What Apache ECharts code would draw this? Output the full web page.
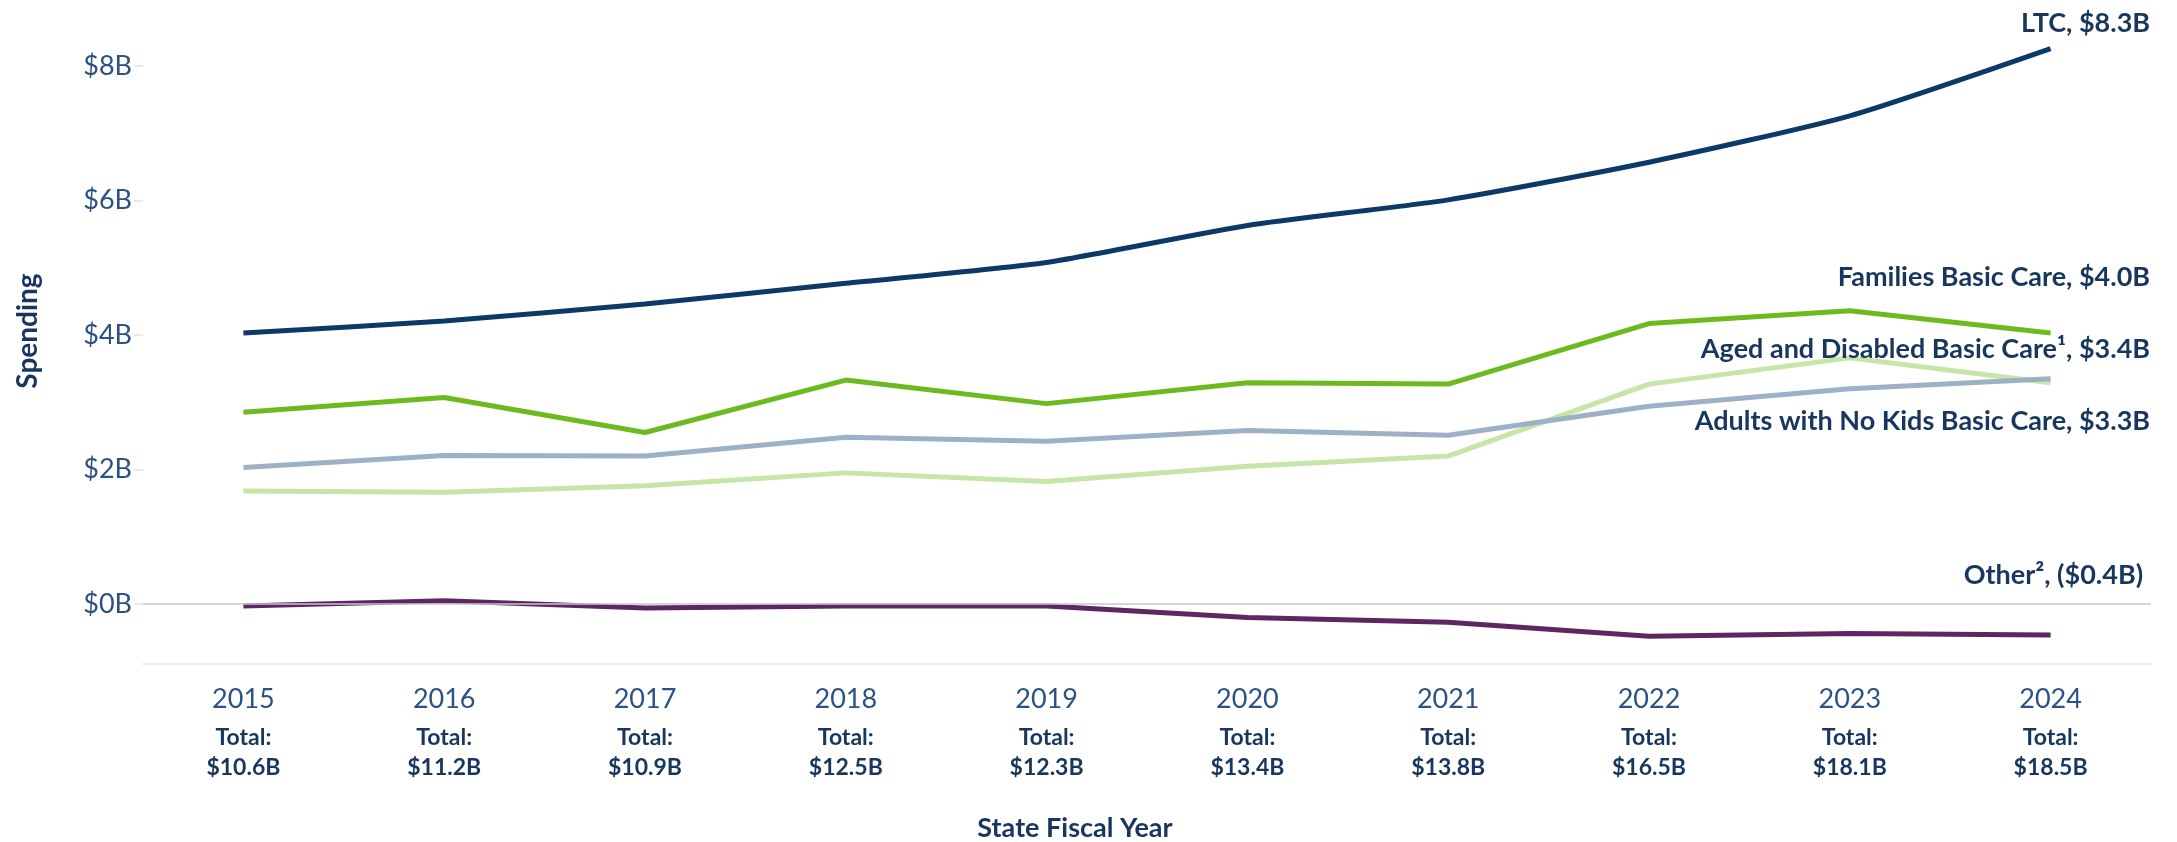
<!DOCTYPE html>
<html>
<head>
<meta charset="utf-8">
<title>Spending by State Fiscal Year</title>
<script src="https://cdn.jsdelivr.net/npm/echarts@6/dist/echarts.min.js"></script>
<style>
    html, body { margin: 0; padding: 0; background: #fff; }
    #main { width: 2177px; height: 842px; }
</style>
</head>
<body>
<div id="main"></div>
<script>
/* 数据 (单位: 十亿美元) */
var years = ['2015', '2016', '2017', '2018', '2019', '2020', '2021', '2022', '2023', '2024'];
var totals = ['$10.6B', '$11.2B', '$10.9B', '$12.5B', '$12.3B', '$13.4B', '$13.8B', '$16.5B', '$18.1B', '$18.5B'];
var yTicks = [0, 2, 4, 6, 8];

var ltc          = [4.03, 4.21, 4.46, 4.77, 5.08, 5.63, 6.01, 6.57, 7.26, 8.26];
var families     = [2.85, 3.07, 2.55, 3.33, 2.98, 3.29, 3.27, 4.17, 4.36, 4.03];
var agedDisabled = [2.03, 2.21, 2.20, 2.48, 2.42, 2.58, 2.51, 2.94, 3.20, 3.35];
var adultsNoKids = [1.68, 1.66, 1.76, 1.95, 1.82, 2.05, 2.20, 3.27, 3.66, 3.29];
var other        = [-0.03, 0.05, -0.06, -0.03, -0.03, -0.20, -0.27, -0.48, -0.44, -0.46];

var FONT = 'Lato';
var NAVY = '#17375e';
var AXIS_BLUE = '#2b5282';

// 线 + 末端标签
function makeSeries(name, data, color, labelText, dx, dy, smooth) {
    var last = data.length - 1;
    return {
        name: name,
        type: 'line',
        data: data,
        smooth: smooth || false,
        showSymbol: false,
        symbol: 'none',
        lineStyle: { color: color, width: 5 },
        itemStyle: { color: color },
        z: 3,
        markPoint: {
            silent: true,
            symbol: 'circle',
            symbolSize: 1,
            itemStyle: { color: 'rgba(0,0,0,0)' },
            label: {
                show: true,
                position: [dx, dy],
                align: 'right',
                verticalAlign: 'middle',
                formatter: labelText,
                fontFamily: FONT,
                fontWeight: 'bold',
                fontSize: 27,
                color: NAVY
            },
            data: [{ coord: [years[last], data[last]] }]
        }
    };
}

function xLabel(value, index) {
    return '{y|' + value + '}\n{t|Total:}\n{v|' + totals[index] + '}';
}

var series = [
    makeSeries('LTC', ltc, '#0b3a66', 'LTC, $8.3B', 100, -25, 0.2),
    makeSeries('Families Basic Care', families, '#6cbb1e', 'Families Basic Care, $4.0B', 100, -55),
    makeSeries('Adults with No Kids Basic Care', adultsNoKids, '#c6e5a7', 'Adults with No Kids Basic Care, $3.3B', 100, 39),
    makeSeries('Aged and Disabled Basic Care', agedDisabled, '#9cb1c5', 'Aged and Disabled Basic Care\u00b9, $3.4B', 100, -29),
    makeSeries('Other', other, '#5d2764', 'Other\u00b2, ($0.4B)', 93, -59)
];

// 0 线
series[4].markLine = {
    silent: true,
    symbol: 'none',
    label: { show: false },
    lineStyle: { color: '#c8c8c8', width: 1.5, type: 'solid' },
    data: [{ yAxis: 0 }]
};

var option = {
    animation: false,
    backgroundColor: '#ffffff',
    grid: { left: 143, right: 26, top: 19, bottom: 178.5, outerBoundsMode: 'none' },
    xAxis: {
        type: 'category',
        data: years,
        boundaryGap: true,
        axisLine: { onZero: false, lineStyle: { color: '#ededed', width: 2 } },
        axisTick: { show: false },
        splitLine: { show: false },
        axisLabel: {
            margin: 11.5,
            formatter: xLabel,
            rich: {
                y: { fontFamily: FONT, fontSize: 27, color: AXIS_BLUE, lineHeight: 48 },
                t: { fontFamily: FONT, fontSize: 23, fontWeight: 'bold', color: NAVY, lineHeight: 30 },
                v: { fontFamily: FONT, fontSize: 23, fontWeight: 'bold', color: NAVY, lineHeight: 30 }
            }
        }
    },
    yAxis: {
        type: 'value',
        min: -0.885,
        max: 8.7,
        axisLine: { show: false },
        splitLine: { show: false },
        axisTick: {
            show: true,
            length: 9,
            customValues: yTicks,
            lineStyle: { color: '#e2e2e2', width: 1.5 }
        },
        axisLabel: {
            customValues: yTicks,
            margin: 11,
            fontFamily: FONT,
            fontSize: 27,
            color: AXIS_BLUE,
            formatter: function (v) { return '$' + v + 'B'; }
        }
    },
    graphic: [
        {
            type: 'text',
            x: 28,
            y: 331,
            rotation: Math.PI / 2,
            style: {
                text: 'Spending',
                fontFamily: FONT,
                fontWeight: 'bold',
                fontSize: 28,
                fill: NAVY,
                textAlign: 'center',
                textVerticalAlign: 'middle'
            }
        },
        {
            type: 'text',
            x: 1075,
            y: 828,
            style: {
                text: 'State Fiscal Year',
                fontFamily: FONT,
                fontWeight: 'bold',
                fontSize: 27,
                fill: NAVY,
                textAlign: 'center',
                textVerticalAlign: 'middle'
            }
        }
    ],
    series: series
};

var myChart = echarts.init(document.getElementById('main'));
myChart.clear();
myChart.setOption(option);
</script>
</body>
</html>
